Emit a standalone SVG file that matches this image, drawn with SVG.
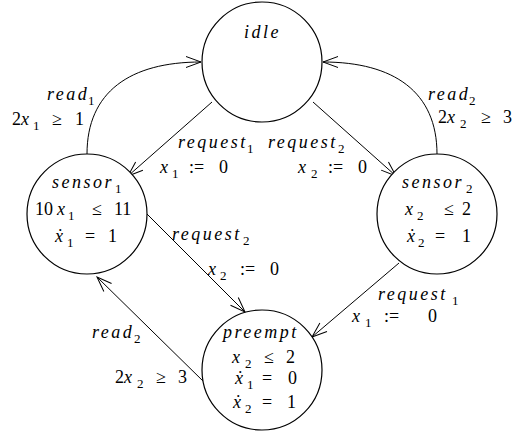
<svg xmlns="http://www.w3.org/2000/svg" width="513" height="432" viewBox="0 0 513 432" font-family="Liberation Serif, Times New Roman, DejaVu Serif, serif">
<defs>
<marker id="ah" viewBox="-16 -8 18 16" refX="0" refY="0" markerWidth="18" markerHeight="16" markerUnits="userSpaceOnUse" orient="auto">
<path d="M-15,-5.5 L0,0 L-15,5.5" fill="none" stroke="#000" stroke-width="1"/>
</marker>
<style>
.n{fill:#fff;stroke:#000;stroke-width:1.2}
.e{fill:none;stroke:#000;stroke-width:1;marker-end:url(#ah)}
text{font-size:18px;fill:#000}
.i{font-style:italic;letter-spacing:2.5px}
.s{font-size:13px;font-style:normal;letter-spacing:0}
</style>
</defs>
<g id="connectors">
<path class="e" d="M87,154 C87,92 130,62 201,62"/>
<path class="e" d="M437,154 C437,92 394,62 323,62"/>
<path class="e" d="M212,102 L128,176"/>
<path class="e" d="M313,102 L396,176"/>
<path class="e" d="M147,214 L245,312"/>
<path class="e" d="M399,263 L312,337"/>
<path class="e" d="M204,382 L97,277"/>
</g>
<g id="idle">
<circle class="n" cx="262" cy="62" r="60"/>
<text class="i" x="244" y="38">idle</text>
</g>
<g id="sensor1">
<circle class="n" cx="87" cy="214" r="60"/>
<text y="188"><tspan class="i" x="52">sensor</tspan><tspan class="s" x="115" y="193">1</tspan></text>
<text y="215"><tspan x="35">10</tspan><tspan class="i" x="57">x</tspan><tspan class="s" x="68" y="220">1</tspan><tspan x="92" y="215">≤</tspan><tspan x="114">11</tspan></text>
<text y="242"><tspan class="i" x="55">ẋ</tspan><tspan class="s" x="67" y="247">1</tspan><tspan x="85" y="242">=</tspan><tspan x="108">1</tspan></text>
</g>
<g id="sensor2">
<circle class="n" cx="437" cy="214" r="60"/>
<text y="188"><tspan class="i" x="402">sensor</tspan><tspan class="s" x="466" y="193">2</tspan></text>
<text y="215"><tspan class="i" x="405">x</tspan><tspan class="s" x="417" y="220">2</tspan><tspan x="444" y="215">≤</tspan><tspan x="462">2</tspan></text>
<text y="242"><tspan class="i" x="407">ẋ</tspan><tspan class="s" x="418" y="247">2</tspan><tspan x="435" y="242">=</tspan><tspan x="462">1</tspan></text>
</g>
<g id="preempt">
<circle class="n" cx="262" cy="370" r="60"/>
<text class="i" x="223" y="338">preempt</text>
<text y="363"><tspan class="i" x="232">x</tspan><tspan class="s" x="245" y="368">2</tspan><tspan x="264" y="363">≤</tspan><tspan x="286">2</tspan></text>
<text y="384"><tspan class="i" x="235">ẋ</tspan><tspan class="s" x="247" y="389">1</tspan><tspan x="262" y="384">=</tspan><tspan x="288">0</tspan></text>
<text y="408"><tspan class="i" x="233">ẋ</tspan><tspan class="s" x="245" y="413">2</tspan><tspan x="262" y="408">=</tspan><tspan x="287">1</tspan></text>
</g>
<g id="labels">
<text y="100"><tspan class="i" x="47">read</tspan><tspan class="s" x="88" y="105">1</tspan></text>
<text y="125"><tspan x="12">2</tspan><tspan class="i" x="21">x</tspan><tspan class="s" x="33" y="130">1</tspan><tspan x="52" y="125">≥</tspan><tspan x="75">1</tspan></text>
<text y="100"><tspan class="i" x="428">read</tspan><tspan class="s" x="469" y="105">2</tspan></text>
<text y="123"><tspan x="438">2</tspan><tspan class="i" x="447">x</tspan><tspan class="s" x="460" y="128">2</tspan><tspan x="481" y="123">≥</tspan><tspan x="503">3</tspan></text>
<text y="148"><tspan class="i" x="178">request</tspan><tspan class="s" x="247" y="153">1</tspan></text>
<text y="173"><tspan class="i" x="160">x</tspan><tspan class="s" x="172" y="178">1</tspan><tspan x="189" y="173">:=</tspan><tspan x="219">0</tspan></text>
<text y="148"><tspan class="i" x="268">request</tspan><tspan class="s" x="338" y="153">2</tspan></text>
<text y="173"><tspan class="i" x="298">x</tspan><tspan class="s" x="311" y="178">2</tspan><tspan x="328" y="173">:=</tspan><tspan x="358">0</tspan></text>
<text y="240"><tspan class="i" x="172">request</tspan><tspan class="s" x="243" y="245">2</tspan></text>
<text y="275"><tspan class="i" x="208">x</tspan><tspan class="s" x="220" y="280">2</tspan><tspan x="240" y="275">:=</tspan><tspan x="270">0</tspan></text>
<text y="300"><tspan class="i" x="378">request</tspan><tspan class="s" x="452" y="305">1</tspan></text>
<text y="322"><tspan class="i" x="352">x</tspan><tspan class="s" x="365" y="327">1</tspan><tspan x="384" y="322">:=</tspan><tspan x="428">0</tspan></text>
<text y="338"><tspan class="i" x="92">read</tspan><tspan class="s" x="134" y="343">2</tspan></text>
<text y="383"><tspan x="115">2</tspan><tspan class="i" x="124">x</tspan><tspan class="s" x="137" y="388">2</tspan><tspan x="156" y="383">≥</tspan><tspan x="178">3</tspan></text>
</g>
</svg>
